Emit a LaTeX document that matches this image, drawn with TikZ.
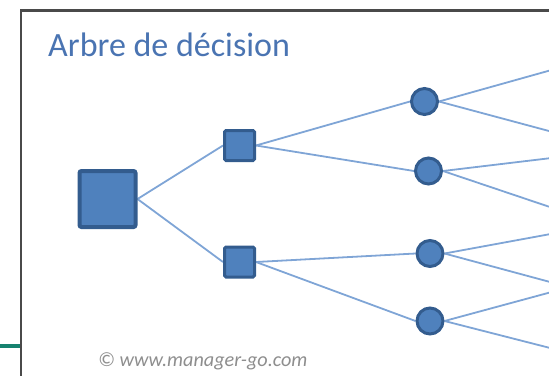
\documentclass[tikz,border=0pt]{standalone}
\usepackage{fontspec}
\setmainfont{Carlito}
\usetikzlibrary{backgrounds}
\definecolor{nodefill}{HTML}{4F81BD}
\definecolor{nodeborder}{HTML}{335C8E}
\definecolor{linkcol}{HTML}{7FA5D6}
\definecolor{titlecol}{HTML}{4A74B2}
\definecolor{framecol}{HTML}{4A4A4A}
\definecolor{greencol}{HTML}{16826F}
\definecolor{copycol}{HTML}{8E8E8E}
\tikzset{
  bigsq/.style={draw=nodeborder, fill=nodefill, line width=4pt, minimum size=56pt, inner sep=0pt, rounded corners=2pt},
  smallsq/.style={draw=nodeborder, fill=nodefill, line width=3pt, minimum size=30pt, inner sep=0pt, rounded corners=1.5pt},
  chance/.style={circle, draw=nodeborder, fill=nodefill, line width=3pt, minimum size=26pt, inner sep=0pt},
  link/.style={draw=linkcol, line width=1.8pt},
  frameline/.style={draw=framecol, line width=2.2pt},
}
\begin{document}
\begin{tikzpicture}[x=1pt,y=-1pt]
\useasboundingbox (0,0) rectangle (549,376);
\coordinate (ftop) at (21,10.5);
\coordinate (fright) at (549,10.5);
\coordinate (fbot) at (21,376);
\coordinate (gl) at (0,346);
\coordinate (gr) at (20,346);
\draw[frameline] (fright) -- (ftop) -- (fbot);
\draw[draw=greencol, line width=4pt] (gl) -- (gr);

\node[anchor=base west, text=titlecol, font=\fontsize{34}{40}\selectfont, inner sep=0pt] (title) at (48,56.5) {Arbre de décision};
\node[anchor=base west, text=copycol, font=\fontsize{20.2}{24}\selectfont\itshape, inner sep=0pt] (copy) at (98,366) {© www.manager-go.com};

\node[bigsq] (big) at (107.5,199) {};
\node[smallsq] (s1) at (239.5,145.5) {};
\node[smallsq] (s2) at (239.5,262) {};
\node[chance] (c1) at (424.5,101.5) {};
\node[chance] (c2) at (428.5,171) {};
\node[chance] (c3) at (430,253.5) {};
\node[chance] (c4) at (430,321) {};

\coordinate (e1) at (549,70.7);
\coordinate (e2) at (549,131);
\coordinate (e3) at (549,158.3);
\coordinate (e4) at (549,206.7);
\coordinate (e5) at (549,234.3);
\coordinate (e6) at (549,281.7);
\coordinate (e7) at (549,292.7);
\coordinate (e8) at (549,347.7);

\begin{scope}[on background layer]
\draw[link] (big.east) -- (s1.west);
\draw[link] (big.east) -- (s2.west);
\draw[link] (s1.east) -- (c1.west);
\draw[link] (s1.east) -- (c2.west);
\draw[link] (s2.east) -- (c3.west);
\draw[link] (s2.east) -- (c4.west);
\draw[link] (c1.east) -- (e1);
\draw[link] (c1.east) -- (e2);
\draw[link] (c2.east) -- (e3);
\draw[link] (c2.east) -- (e4);
\draw[link] (c3.east) -- (e5);
\draw[link] (c3.east) -- (e6);
\draw[link] (c4.east) -- (e7);
\draw[link] (c4.east) -- (e8);
\end{scope}
\end{tikzpicture}
\end{document}
